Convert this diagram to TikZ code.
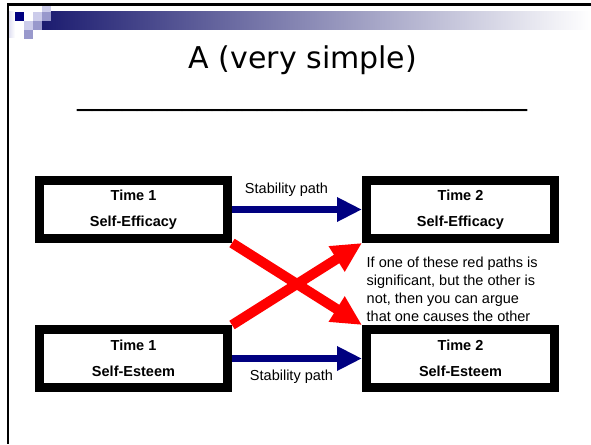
\documentclass[tikz,border=0pt]{standalone}
\usepackage{fontspec}
\setmainfont{Liberation Sans}
\newfontfamily\titlefont{DejaVu Sans}
\usetikzlibrary{arrows.meta,positioning}
\definecolor{slidenavy}{RGB}{0,0,128}
\definecolor{barnavy}{RGB}{28,28,112}
\definecolor{sqlight}{RGB}{204,204,234}
\definecolor{sqmid}{RGB}{153,153,204}
\begin{document}
\begin{tikzpicture}
	[x=1pt,y=-1pt,
	varbox/.style={rectangle,draw=black,line width=9pt,fill=white,minimum width=188pt,minimum height=58pt,align=center,font=\fontsize{14.5}{26}\selectfont\bfseries},
	stab/.style={-{Triangle[length=25pt,width=23pt]},line width=7pt,draw=slidenavy},
	cross/.style={-{Triangle[length=30pt,width=28pt]},line width=10pt,draw=red},
	plain/.style={draw=none,fill=none,inner sep=0pt,font=\fontsize{14.5}{18}\selectfont},
	heading/.style={anchor=base,inner sep=0pt,font=\titlefont\fontsize{30}{36}\selectfont}
	]
	\useasboundingbox (0,0) rectangle (591,444);

	\shade[left color=barnavy, right color=white] (42,12) rectangle (591,29.5);
	\shade[left color=sqlight!70, right color=white] (8,12) rectangle (15,38);
	\fill[slidenavy] (15,12) rectangle (24,21);
	\fill[sqlight] (33,12) rectangle (42,21);
	\fill[sqlight] (42,4) rectangle (51,12);
	\fill[sqmid] (42,12) rectangle (51,21);
	\fill[sqlight] (24,21) rectangle (33,30);
	\fill[sqmid] (33,21) rectangle (42,30);
	\fill[sqmid] (24,30) rectangle (33,39);
	\draw[line width=2.5pt] (7,4.5) -- (591,4.5);
	\draw[line width=2pt] (7.5,4) -- (7.5,444);

	\node[heading] (title) at (303,68) {A (very simple)};
	\node[heading] (rule) at (302.5,104.5) {\_\_\_\_\_\_\_\_\_\_\_\_\_\_\_\_\_\_\_\_\_\_\_\_\_\_\_\_\_\_};

	\node[varbox] (effA) at (133.5,209.5) {Time 1\\Self-Efficacy};
	\node[varbox] (effB) at (460.5,209.5) {Time 2\\Self-Efficacy};
	\node[varbox] (estA) at (133.5,358.5) {Time 1\\Self-Esteem};
	\node[varbox] (estB) at (460.5,358.5) {Time 2\\Self-Esteem};

	\draw[stab] (effA) -- node[plain,above=9pt,xshift=-10.5pt]{Stability path} (effB);
	\draw[stab] (estA) -- node[plain,below=8pt,xshift=-5.5pt]{Stability path} (estB);
	\draw[cross] (effA.south east) -- (estB.north west);
	\draw[cross] (estA.north east) -- (effB.south west);

	\node[plain,align=left,below right=13.5pt and 4.5pt of effB.south west] (note)
		{If one of these red paths is\\significant, but the other is\\not, then you can argue\\that one causes the other};
\end{tikzpicture}
\end{document}
